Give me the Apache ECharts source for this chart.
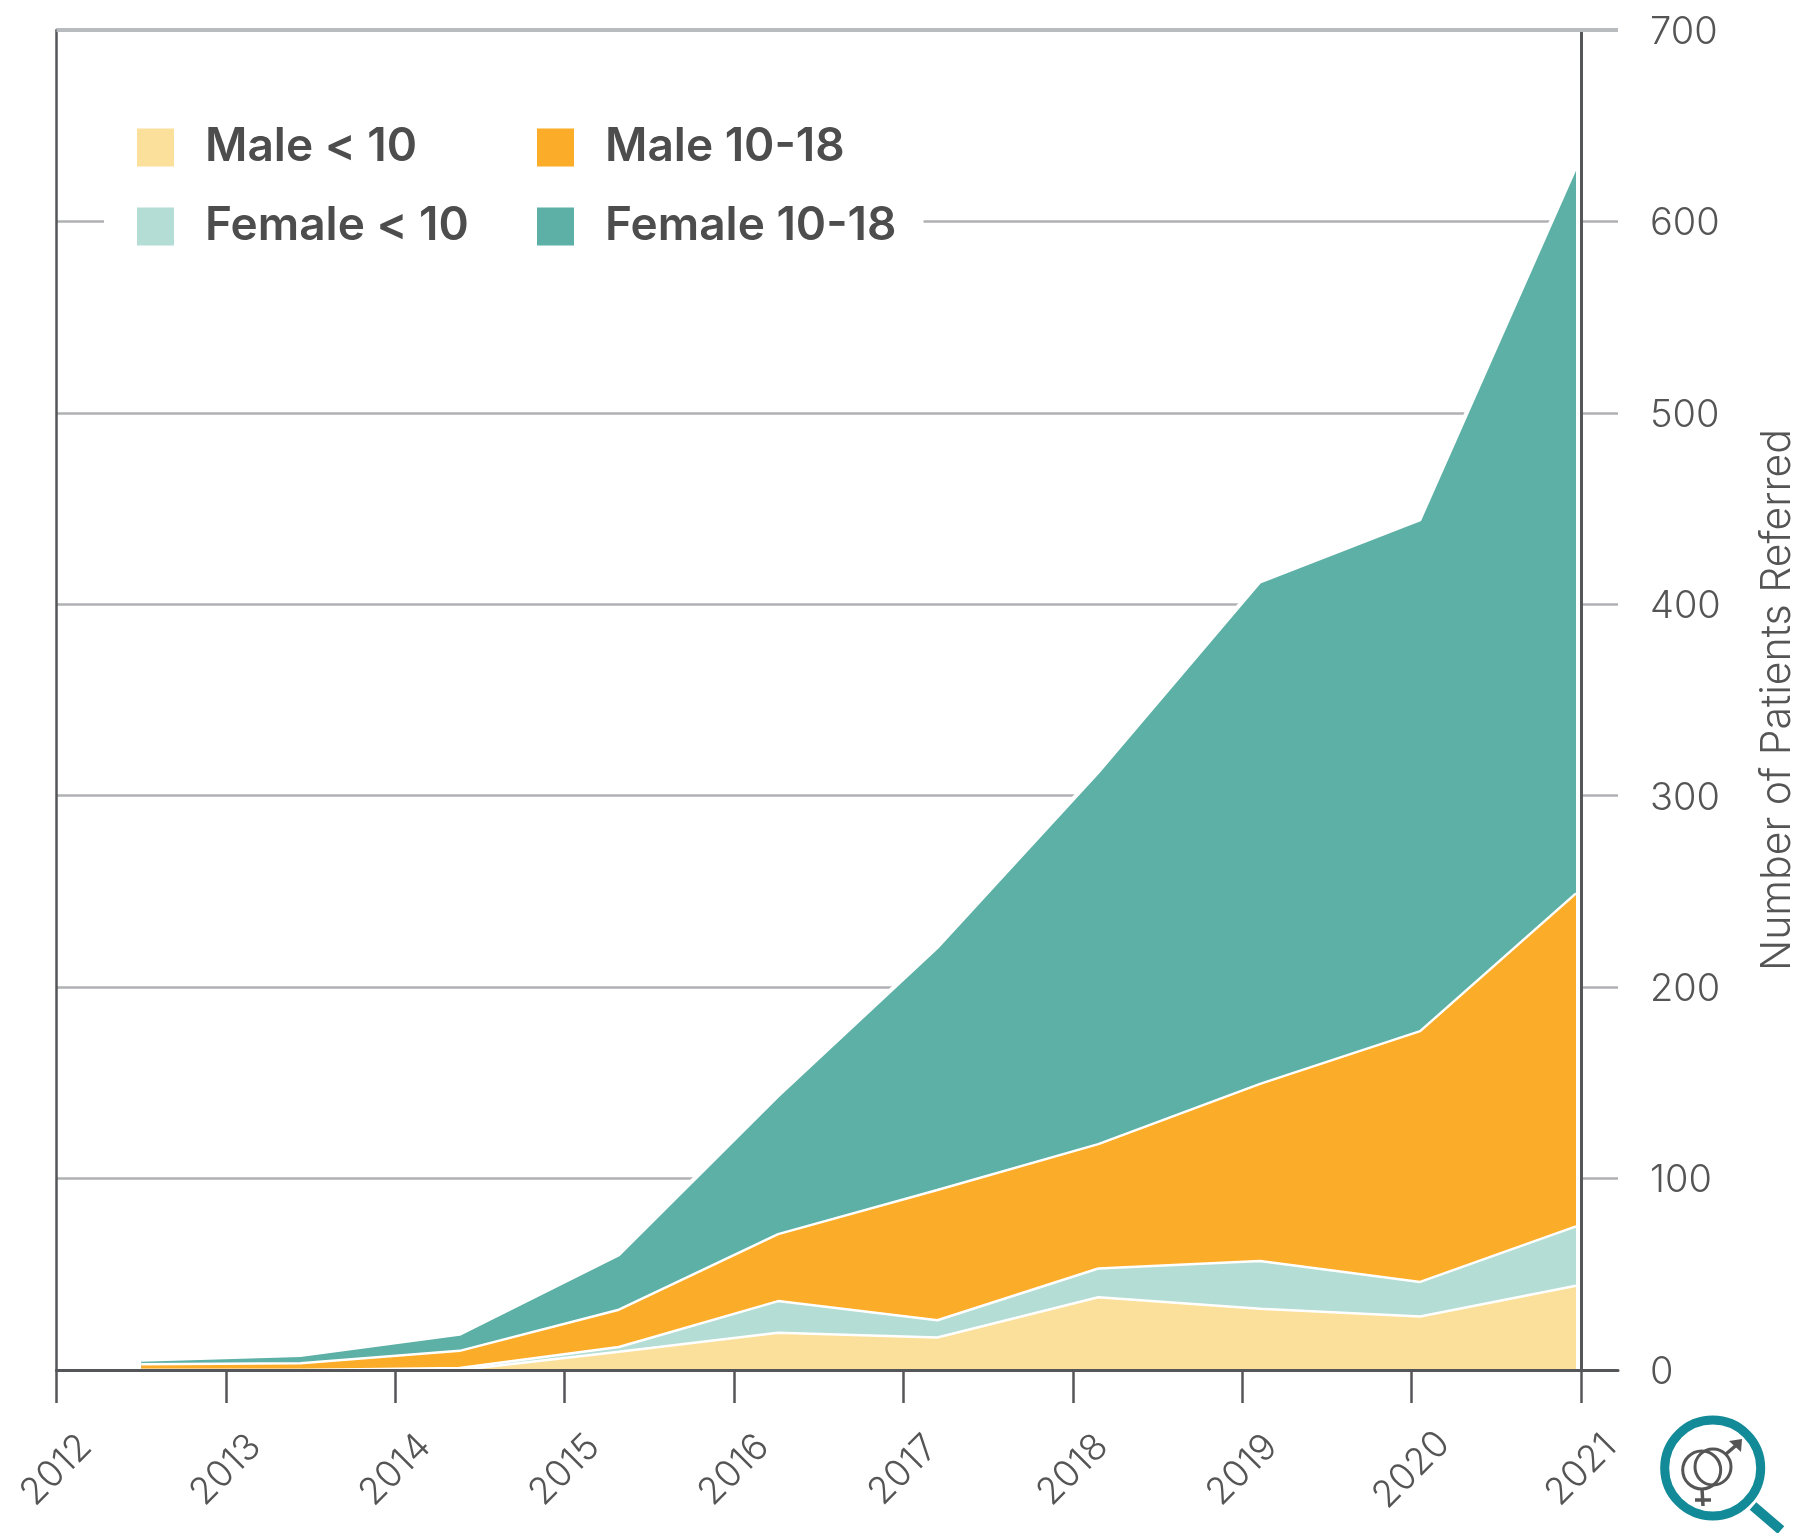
<!DOCTYPE html>
<html><head><meta charset="utf-8">
<style>html,body{margin:0;padding:0;background:#fff}#c{width:1794px;height:1533px}</style>
<script src="https://cdn.jsdelivr.net/npm/echarts@6/dist/echarts.min.js"></script>
</head><body><div id="c"></div>
<script>
const tickYears = [2012,2013,2014,2015,2016,2017,2018,2019,2020,2021];
const pointYears = [2012.5,2013.44,2014.38,2015.32,2016.26,2017.2,2018.15,2019.105,2020.05,2020.97];
const maleUnder10 = [0,0,0,9.5,19.5,17,38,32,28,44];
const femaleUnder10 = [0,0,1,2.5,16.5,9,15,25,18,31];
const male10to18 = [3,3.5,9,19.5,35,68,65,92.5,131,174];
const female10to18 = [2,4,8.5,28.5,72,126.5,194,262,267,379];
const FONT = 'Inter';
const TXT = '#555555', DARK = '#55565a', GRID = '#b0b1b5';
const sum = (...arrs) => pointYears.map((_, i) => arrs.reduce((s, a) => s + a[i], 0));
const cumFemaleUnder10 = sum(maleUnder10, femaleUnder10);
const cumMale10to18 = sum(maleUnder10, femaleUnder10, male10to18);
const totals = sum(maleUnder10, femaleUnder10, male10to18, female10to18);
const pairs = a => a.map((v, i) => [pointYears[i], v]);
const area = (name, vals, color, z, extra) => Object.assign({
  name, type:'line', data:pairs(vals), showSymbol:false, symbol:'none', z,
  itemStyle:{color}, areaStyle:{color, opacity:1},
  lineStyle:{color:'#ffffff', width:2.5}
}, extra||{});
const legendBase = {
  orient:'vertical', icon:'rect', itemWidth:37, itemHeight:38, itemGap:33, top:116.5,
  backgroundColor:'#ffffff', selectedMode:false,
  itemStyle:{borderWidth:0},
  textStyle:{fontFamily:FONT, fontSize:46, fontWeight:600, color:'#4d4d4d', lineHeight:38, padding:[5,0,0,26]}
};
const chart = echarts.init(document.getElementById('c'), null, {renderer:'canvas'});
chart.setOption({
  animation:false,
  backgroundColor:'#ffffff',
  grid:{left:56.5, right:176, top:30, bottom:163, containLabel:false, outerBoundsMode:'none'},
  legend:[
    Object.assign({}, legendBase, {left:104, padding:[8,20,8,33], data:['Male < 10','Female < 10']}),
    Object.assign({}, legendBase, {left:475, padding:[8,27,8,62], data:['Male 10-18','Female 10-18']})
  ],
  xAxis:{
    type:'value', min:2012, max:2021.218, z:8,
    axisLine:{show:true, onZero:false, lineStyle:{color:DARK, width:3}},
    axisTick:{show:true, length:33, customValues:tickYears, lineStyle:{color:DARK, width:2.5}},
    axisLabel:{show:true, customValues:tickYears, rotate:45, align:'center', verticalAlign:'middle', margin:100,
      color:TXT, fontFamily:FONT, fontSize:37, fontWeight:300, formatter:v=>String(v)},
    splitLine:{show:false}
  },
  yAxis:[
    {type:'value', position:'left', min:0, max:700, interval:100,
     axisLine:{show:true, onZero:false, lineStyle:{color:DARK, width:2.5}},
     axisTick:{show:false}, axisLabel:{show:false},
     splitLine:{show:true, lineStyle:{color:GRID, width:2.5}}},
    {type:'value', position:'right', min:0, max:700, interval:100,
     axisLine:{show:false}, axisTick:{show:false}, splitLine:{show:false},
     axisLabel:{show:true, margin:32, verticalAlign:'top', lineHeight:5, color:TXT, fontFamily:FONT, fontSize:38, fontWeight:300},
     name:'Number of Patients Referred', nameLocation:'middle', nameRotate:90, nameGap:139,
     nameTextStyle:{color:TXT, fontFamily:FONT, fontSize:41, fontWeight:300}}
  ],
  series:[
    {name:'halo', type:'line', data:pairs(totals), symbol:'none', z:1, silent:true,
     lineStyle:{color:'#ffffff', width:6},
     markLine:{silent:true, symbol:'none', z:1, label:{show:false},
       lineStyle:{color:'#ffffff', width:13, type:'solid'},
       data:[[{coord:[pointYears[9],0]},{coord:[pointYears[9],totals[9]]}]]}},
    area('Female 10-18', totals, '#5cb0a5', 3, {
      markLine:{silent:true, symbol:'none', z:9, label:{show:false},
        data:[
          [{coord:[2021,0],lineStyle:{color:DARK,width:3,type:'solid'}},{coord:[2021,700]}],
          [{coord:[2012,700],lineStyle:{color:'#b8bcbf',width:4,type:'solid'}},{coord:[2021.218,700]}]
        ]}
    }),
    area('Male 10-18', cumMale10to18, '#fbac28', 4),
    area('Female < 10', cumFemaleUnder10, '#b4ddd5', 5),
    area('Male < 10', maleUnder10, '#fbe09b', 6)
  ],
  graphic:[
    {type:'group', silent:true, z:10, children:[
      {type:'line', shape:{x1:1753,y1:1506,x2:1781,y2:1530}, style:{stroke:'#138a97', lineWidth:10}},
      {type:'circle', shape:{cx:1712.7,cy:1468,r:48}, style:{fill:'#ffffff', stroke:'#138a97', lineWidth:9}},
      {type:'circle', shape:{cx:1701.7,cy:1470,r:19}, style:{fill:'none', stroke:'#555555', lineWidth:3}},
      {type:'circle', shape:{cx:1713,cy:1467,r:18}, style:{fill:'none', stroke:'#555555', lineWidth:3}},
      {type:'line', shape:{x1:1702,y1:1489,x2:1703,y2:1506}, style:{stroke:'#555555', lineWidth:3.5}},
      {type:'line', shape:{x1:1695,y1:1500,x2:1711,y2:1500}, style:{stroke:'#555555', lineWidth:3.5}},
      {type:'line', shape:{x1:1726,y1:1454,x2:1740,y2:1442}, style:{stroke:'#555555', lineWidth:3.5}},
      {type:'polygon', shape:{points:[[1729,1441],[1742,1439],[1741,1452]]}, style:{fill:'#555555'}}
    ]}
  ]
});
</script></body></html>
